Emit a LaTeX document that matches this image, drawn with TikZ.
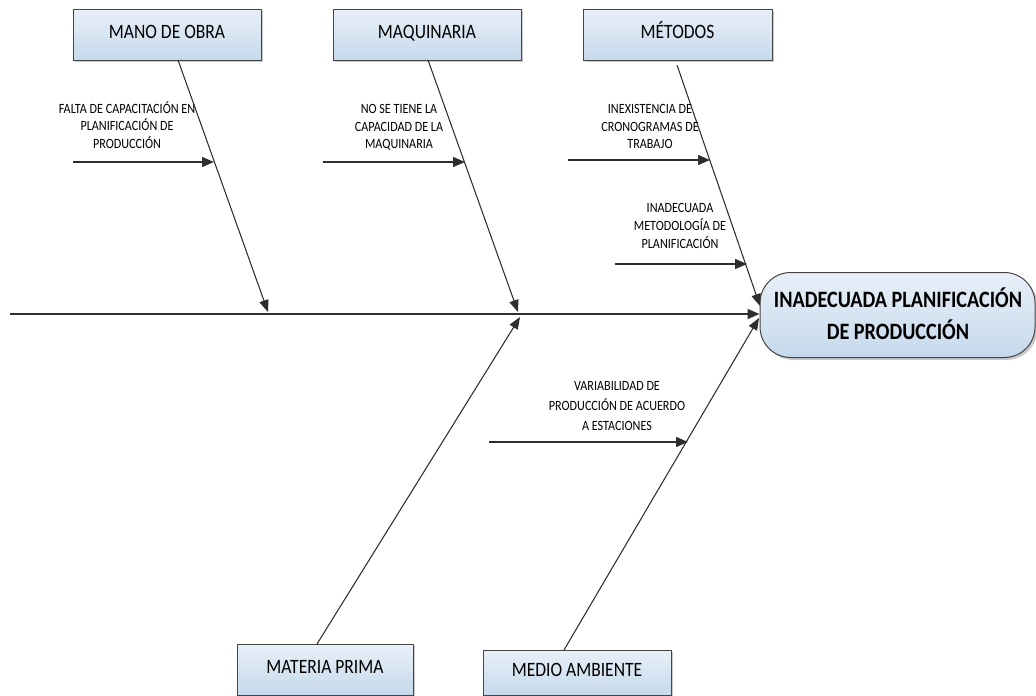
\documentclass[tikz,border=0pt]{standalone}
\usepackage{fontspec}
\setmainfont[FakeStretch=0.86]{Carlito}
\usetikzlibrary{arrows.meta,shadows}
\definecolor{boxtop}{HTML}{E8F0F8}
\definecolor{boxbot}{HTML}{C6D9EC}
\definecolor{edge}{HTML}{454545}
\definecolor{ink}{HTML}{2E2E2E}
\begin{document}
\begin{tikzpicture}[x=0.75pt,y=-0.75pt,
  catbox/.style={draw=edge, line width=0.75pt, top color=boxtop, bottom color=boxbot,
    drop shadow={shadow xshift=1.8pt,shadow yshift=-1.8pt,fill=black!30,opacity=0.7},
    inner sep=0pt, text height=0.66em, text depth=0pt,
    font=\fontsize{15.3}{18}\selectfont},
  effbox/.style={draw=edge, line width=0.75pt, top color=boxtop, bottom color=boxbot,
    drop shadow={shadow xshift=1.8pt,shadow yshift=-1.8pt,fill=black!30,opacity=0.7},
    rounded corners=23pt, inner sep=0pt},
  efftext/.style={align=center, inner sep=0pt, text depth=0pt,
    font=\fontsize{17.6}{24}\selectfont\bfseries},
  cause/.style={align=center, inner sep=0pt, text depth=0pt,
    font=\fontsize{10.6}{13.2}\selectfont},
  spine/.style={draw=ink, line width=1.2pt, -{Triangle[length=9pt,width=7.5pt]}},
  bone/.style={draw=ink, line width=0.8pt, -{Triangle[length=9pt,width=7pt]}},
  subarrow/.style={draw=ink, line width=1.1pt, -{Triangle[length=9pt,width=7.5pt]}}
]
\useasboundingbox (0,0) rectangle (1036,696);

% category boxes
\node[catbox, minimum width=141pt, minimum height=38.25pt] (mano) at (167,34.5) {MANO DE OBRA};
\node[catbox, minimum width=141pt, minimum height=38.25pt] (maq) at (427,34.5) {MAQUINARIA};
\node[catbox, minimum width=141.75pt, minimum height=38.25pt] (met) at (677.5,34.5) {MÉTODOS};
\node[catbox, minimum width=132pt, minimum height=38.25pt] (mat) at (325,669.5) {MATERIA PRIMA};
\node[catbox, minimum width=141pt, minimum height=33.75pt] (med) at (577,672.5) {MEDIO AMBIENTE};

% effect
\node[effbox, minimum width=206.25pt, minimum height=63.75pt] (eff) at (897.5,315) {};
\node[efftext] (efft) at (898,314) {INADECUADA PLANIFICACIÓN\\DE PRODUCCIÓN};

% spine
\coordinate (tail) at (10,314);
\draw[spine] (tail) -- (eff.west |- tail);

% bone coordinates
\coordinate (manoS) at (178,60);
\coordinate (manoE) at (268,312);
\coordinate (maqS) at (428,60);
\coordinate (maqE) at (518,312);
\coordinate (metS) at (677,65);
\coordinate (metE) at (760,306);
\coordinate (matS) at (317,644);
\coordinate (matE) at (520,317);
\coordinate (medS) at (564,650);
\coordinate (medE) at (759,318);

\draw[bone] (manoS) -- (manoE);
\draw[bone] (maqS) -- (maqE);
\draw[bone] (metS) -- (metE);
\draw[bone] (matS) -- (matE);
\draw[bone] (medS) -- (medE);

% sub-causes
\node[cause] (c1) at (127,125) {FALTA DE CAPACITACIÓN EN\\PLANIFICACIÓN DE\\PRODUCCIÓN};
\coordinate (a1s) at (73,162);
\coordinate (a1e) at (214,162);
\draw[subarrow] (a1s) -- (a1e);

\node[cause] (c2) at (399,126.5) {NO SE TIENE LA\\CAPACIDAD DE LA\\MAQUINARIA};
\coordinate (a2s) at (323,162);
\coordinate (a2e) at (465,162);
\draw[subarrow] (a2s) -- (a2e);

\node[cause] (c3) at (650,126.5) {INEXISTENCIA DE\\CRONOGRAMAS DE\\TRABAJO};
\coordinate (a3s) at (568,160);
\coordinate (a3e) at (710,160);
\draw[subarrow] (a3s) -- (a3e);

\node[cause, font=\fontsize{10.6}{13.5}\selectfont] (c4) at (680,225.5) {INADECUADA\\METODOLOGÍA DE\\PLANIFICACIÓN};
\coordinate (a4s) at (615,264);
\coordinate (a4e) at (747,264);
\draw[subarrow] (a4s) -- (a4e);

\node[cause, font=\fontsize{10.6}{15}\selectfont] (c5) at (617,406) {VARIABILIDAD DE\\PRODUCCIÓN DE ACUERDO\\A ESTACIONES};
\coordinate (a5s) at (489,442);
\coordinate (a5e) at (688,442);
\draw[subarrow] (a5s) -- (a5e);
\end{tikzpicture}
\end{document}
